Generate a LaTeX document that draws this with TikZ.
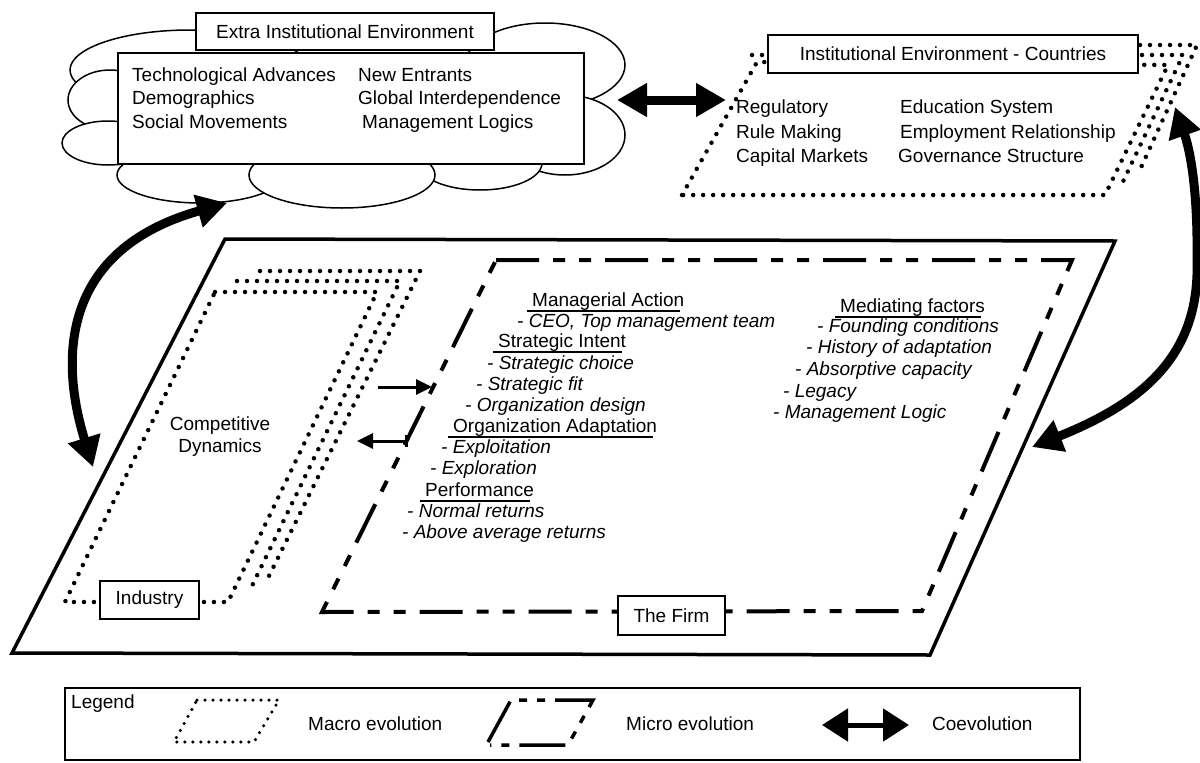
\documentclass[tikz,border=0pt]{standalone}
\usepackage{fontspec}
\setmainfont{Liberation Sans}
\usetikzlibrary{arrows.meta}
\newcommand\fsz{\fontsize{19}{22}\selectfont}
\begin{document}
\begin{tikzpicture}[x=1pt,y=-1pt,
  box/.style={draw, line width=1.5pt, fill=white, inner sep=0pt, font=\fsz},
  txt/.style={anchor=west, inner sep=0pt, font=\fsz, text height=14pt, text depth=4pt},
  itx/.style={txt, font=\fsz\itshape},
  ctx/.style={txt, anchor=center},
  cloudpart/.style={draw, line width=1.5pt, fill=white},
  macro/.style={line width=4.5pt, line cap=round, dash pattern=on 0pt off 10pt},
  macrosmall/.style={line width=3.5pt, line cap=round, dash pattern=on 0pt off 8pt},
  micro/.style={line width=4pt, dash pattern=on 43pt off 14pt on 12pt off 14pt on 12pt off 14pt},
  microsmall/.style={line width=3.5pt, dash pattern=on 46pt off 10pt on 8pt off 10pt on 8pt off 10pt},
  frame/.style={line width=3.5pt, line join=miter},
  uline/.style={line width=1.3pt},
  coevo/.style={line width=9pt, {Triangle[length=30pt,width=32pt]}-{Triangle[length=30pt,width=32pt]}},
  coevosmall/.style={line width=5pt, {Triangle[length=26pt,width=32pt]}-{Triangle[length=26pt,width=32pt]}},
  flow/.style={line width=3pt, -{Triangle[length=16pt,width=15pt]}},
  flowback/.style={line width=3pt, {Bar[width=12pt]}-{Triangle[length=16pt,width=15pt]}}
]
\useasboundingbox (0,0) rectangle (1200,763);
\fill[white] (0,0) rectangle (1200,763);

% ---------- cloud ----------
\path[cloudpart] (190,70) ellipse [x radius=120pt, y radius=40pt];
\path[cloudpart] (545,65) ellipse [x radius=80pt, y radius=42pt];
\path[cloudpart] (110,100) ellipse [x radius=42pt, y radius=30pt];
\path[cloudpart] (108,143) ellipse [x radius=46pt, y radius=22pt];
\path[cloudpart] (565,135) ellipse [x radius=60pt, y radius=40pt];
\path[cloudpart] (200,175) ellipse [x radius=83pt, y radius=28pt];
\path[cloudpart] (480,163) ellipse [x radius=62pt, y radius=27pt];
\path[cloudpart] (342,175) ellipse [x radius=93pt, y radius=33pt];
\node[box, minimum width=466pt, minimum height=111pt] (cloudbox) at (351,108.5) {};
\node[box, minimum width=298pt, minimum height=37pt] (extra) at (345,31.5) {Extra Institutional Environment};
\node[txt] (t1) at (132,76) {Technological Advances};
\node[txt] (t2) at (132,99) {Demographics};
\node[txt] (t3) at (132,123) {Social Movements};
\node[txt] (t4) at (358,76) {New Entrants};
\node[txt] (t5) at (358,99) {Global Interdependence};
\node[txt] (t6) at (362,123) {Management Logics};

% ---------- institutional environment ----------
\draw[macro] (770,45) -- (1197,45) -- (1138,174);
\draw[macro] (752,55) -- (1183,55) -- (1120,188);
\draw[macro] (682,195) -- (757,62) -- (1168,65) -- (1105,195) -- cycle;
\node[box, minimum width=370pt, minimum height=38pt] (inst) at (953,54) {Institutional Environment - Countries};
\node[txt] (i1) at (736,108) {Regulatory};
\node[txt] (i2) at (736,133) {Rule Making};
\node[txt] (i3) at (736,157) {Capital Markets};
\node[txt] (i4) at (900,108) {Education System};
\node[txt] (i5) at (900,133) {Employment Relationship};
\node[txt] (i6) at (898,157) {Governance Structure};

% ---------- big frame ----------
\draw[frame] (225,239) -- (1115,241) -- (930,655) -- (12,653) -- cycle;

% ---------- industry ----------
\draw[macro] (260,271) -- (420,271) -- (268,578);
\draw[macro] (237,281) -- (400,281) -- (250,590);
\draw[macro] (215,292) -- (377,292) -- (228,602) -- (65,602) -- cycle;
\node[box, minimum width=99pt, minimum height=38pt] (industry) at (149.5,600) {Industry};
\node[ctx] (cd1) at (220,425) {Competitive};
\node[ctx] (cd2) at (220,447) {Dynamics};

% ---------- firm ----------
\draw[micro] (496,260) -- (1072,260) -- (922,611) -- (322,612) -- cycle;
\node[box, minimum width=107pt, minimum height=39pt] (firm) at (671.5,615.5) {The Firm};

\node[txt] (ma) at (532,301) {Managerial Action};
\node[itx] (ma1) at (517,322) {- CEO, Top management team};
\node[txt] (si) at (498,342) {Strategic Intent};
\node[itx] (si1) at (487,364) {- Strategic choice};
\node[itx] (si2) at (476,385) {- Strategic fit};
\node[itx] (si3) at (465,406) {- Organization design};
\node[txt] (oa) at (453,427) {Organization Adaptation};
\node[itx] (oa1) at (441,448) {- Exploitation};
\node[itx] (oa2) at (430,469) {- Exploration};
\node[txt] (pf) at (425,491) {Performance};
\node[itx] (pf1) at (407,512) {- Normal returns};
\node[itx] (pf2) at (402,533) {- Above average returns};

\node[txt] (mf) at (840,307) {Mediating factors};
\node[itx] (mf1) at (817,327) {- Founding conditions};
\node[itx] (mf2) at (806,348) {- History of adaptation};
\node[itx] (mf3) at (795,370) {- Absorptive capacity};
\node[itx] (mf4) at (783,392) {- Legacy};
\node[itx] (mf5) at (773,413) {- Management Logic};

\foreach \n in {ma,si,oa,pf,mf}{
  \draw[uline] ([shift={(-5,5)}]\n.base west) -- ([shift={(-4,5)}]\n.base east);
}

% ---------- small arrows industry <-> firm ----------
\coordinate (sa1s) at (378,387);
\coordinate (sa1e) at (432,387);
\coordinate (sa2s) at (408,441);
\coordinate (sa2e) at (357,441);
\draw[flow] (sa1s) -- (sa1e);
\draw[flowback] (sa2s) -- (sa2e);

% ---------- coevolution arrows ----------
\coordinate (cl) at (617,100);
\coordinate (cr) at (726,100);
\draw[coevo] (cl) -- (cr);

\coordinate (lt1) at (93,467);
\coordinate (lt2) at (227,203);
\draw[coevo] (lt1) .. controls (60,360) and (60,250) .. (lt2);

\coordinate (rt1) at (1175,107);
\coordinate (rtm) at (1197,260);
\coordinate (rt2) at (1032,447);
\draw[coevo] (rt1) .. controls (1190,150) and (1198,190) .. (rtm)
                   .. controls (1200,350) and (1150,400) .. (rt2);

% ---------- legend ----------
\node[draw, line width=1.5pt, minimum width=1015pt, minimum height=72pt, inner sep=0pt] (legend) at (572.5,724) {};
\node[txt] (lgt) at (71,703) {Legend};
\draw[macrosmall] (197,700) -- (279,700) -- (254,742) -- (174,742) -- cycle;
\node[txt] (lg1) at (308,725) {Macro evolution};
\draw[microsmall] (488,742) -- (511,700) -- (593,700) -- (568,745) -- (490,745);
\node[txt] (lg2) at (626,725) {Micro evolution};
\coordinate (la) at (822,725);
\coordinate (lb) at (909,725);
\draw[coevosmall] (la) -- (lb);
\node[txt] (lg3) at (932,725) {Coevolution};
\end{tikzpicture}
\end{document}
